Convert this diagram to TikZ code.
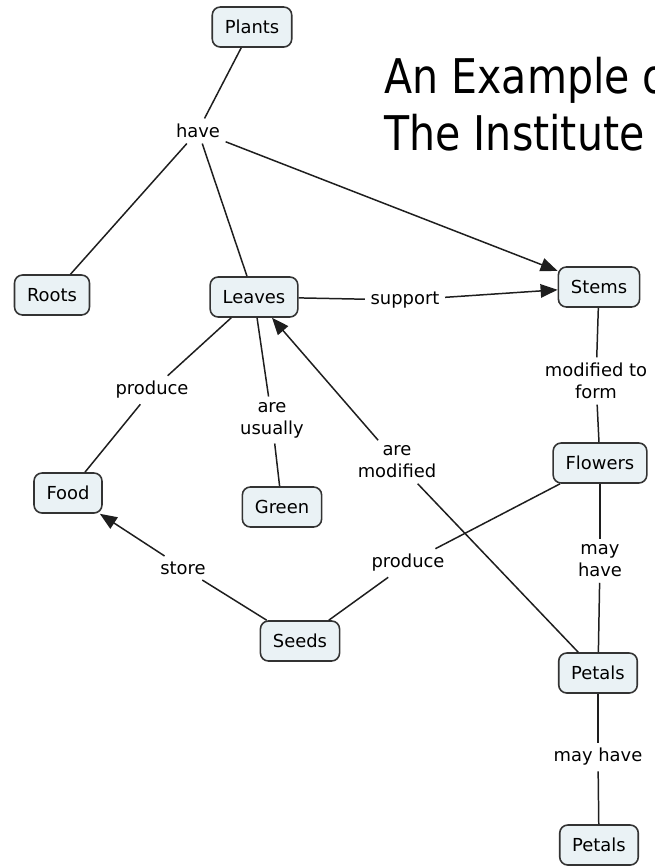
\documentclass[tikz,border=0pt]{standalone}
\usepackage{fontspec}
\setmainfont{DejaVu Sans}
\newfontfamily\titlefont[FakeStretch=0.86]{DejaVu Sans}
\usetikzlibrary{arrows.meta}
\definecolor{boxfill}{HTML}{EAF2F5}
\definecolor{boxline}{HTML}{333333}
\definecolor{linkline}{HTML}{1E1E1E}
\tikzstyle{concept} = [rectangle, rounded corners=0.16cm, draw=boxline, line width=0.9pt, fill=boxfill, minimum height=0.8cm, inner xsep=0.25cm, inner ysep=0pt, font=\fontsize{10.2}{12.5}\selectfont]
\tikzstyle{phrase} = [inner sep=3pt, align=center, font=\fontsize{10.2}{12.5}\selectfont]
\tikzstyle{link} = [draw=linkline, line width=0.85pt]
\tikzstyle{heading} = [anchor=base west, inner sep=0pt, font=\titlefont\fontsize{27.2}{32}\selectfont]

\begin{document}
\begin{tikzpicture}[x=0.02cm, y=-0.02cm, >={Triangle[length=0.34cm, width=0.27cm]}]
\useasboundingbox (0,0) rectangle (654,866);
\clip (0,0) rectangle (654,866);
% title
\node[heading] (title1) at (384,93) {An Example of};
\node[heading] (title2) at (384,150) {The Institute};
% concepts
\node[concept] (plants) at (252,27) {Plants};
\node[concept] (roots) at (52,295) {Roots};
\node[concept] (leaves) at (254,297) {Leaves};
\node[concept] (stems) at (599,287) {Stems};
\node[concept] (flowers) at (600,463) {Flowers};
\node[concept] (food) at (68,493) {Food};
\node[concept] (green) at (282,507) {Green};
\node[concept] (seeds) at (300,641) {Seeds};
\node[concept] (petals) at (598,673) {Petals};
\node[concept] (petalsb) at (599,845) {Petals};
% linking phrases
\node[phrase] (have) at (198,131) {have};
\node[phrase] (support) at (405,300) {support};
\node[phrase] (modform) at (596,381) {modified to\\form};
\node[phrase] (prodfood) at (152,390) {produce};
\node[phrase] (usually) at (272,420) {are\\usually};
\node[phrase] (modified) at (397,462) {are\\modified};
\node[phrase] (prodseeds) at (408,563) {produce};
\node[phrase] (store) at (183,568) {store};
\node[phrase] (mayhave) at (600,561) {may\\have};
\node[phrase] (mayhaveb) at (598,757) {may have};
% links
\draw[link] (plants) -- (have);
\draw[link] (have) -- (roots);
\draw[link] (have) -- (leaves);
\draw[link,->] (have) -- (stems);
\draw[link] (leaves) -- (support);
\draw[link,->] (support) -- (stems);
\draw[link] (stems) -- (modform);
\draw[link] (modform) -- (flowers);
\draw[link] (leaves) -- (prodfood);
\draw[link] (prodfood) -- (food);
\draw[link] (green) -- (usually);
\draw[link] (usually) -- (leaves);
\draw[link] (petals) -- (modified);
\draw[link,->] (modified) -- (leaves);
\draw[link] (flowers) -- (prodseeds);
\draw[link] (prodseeds) -- (seeds);
\draw[link] (seeds) -- (store);
\draw[link,->] (store) -- (food);
\draw[link] (flowers) -- (mayhave);
\draw[link] (mayhave) -- (petals);
\draw[link] (petals) -- (mayhaveb);
\draw[link] (mayhaveb) -- (petalsb);
\end{tikzpicture}
\end{document}
